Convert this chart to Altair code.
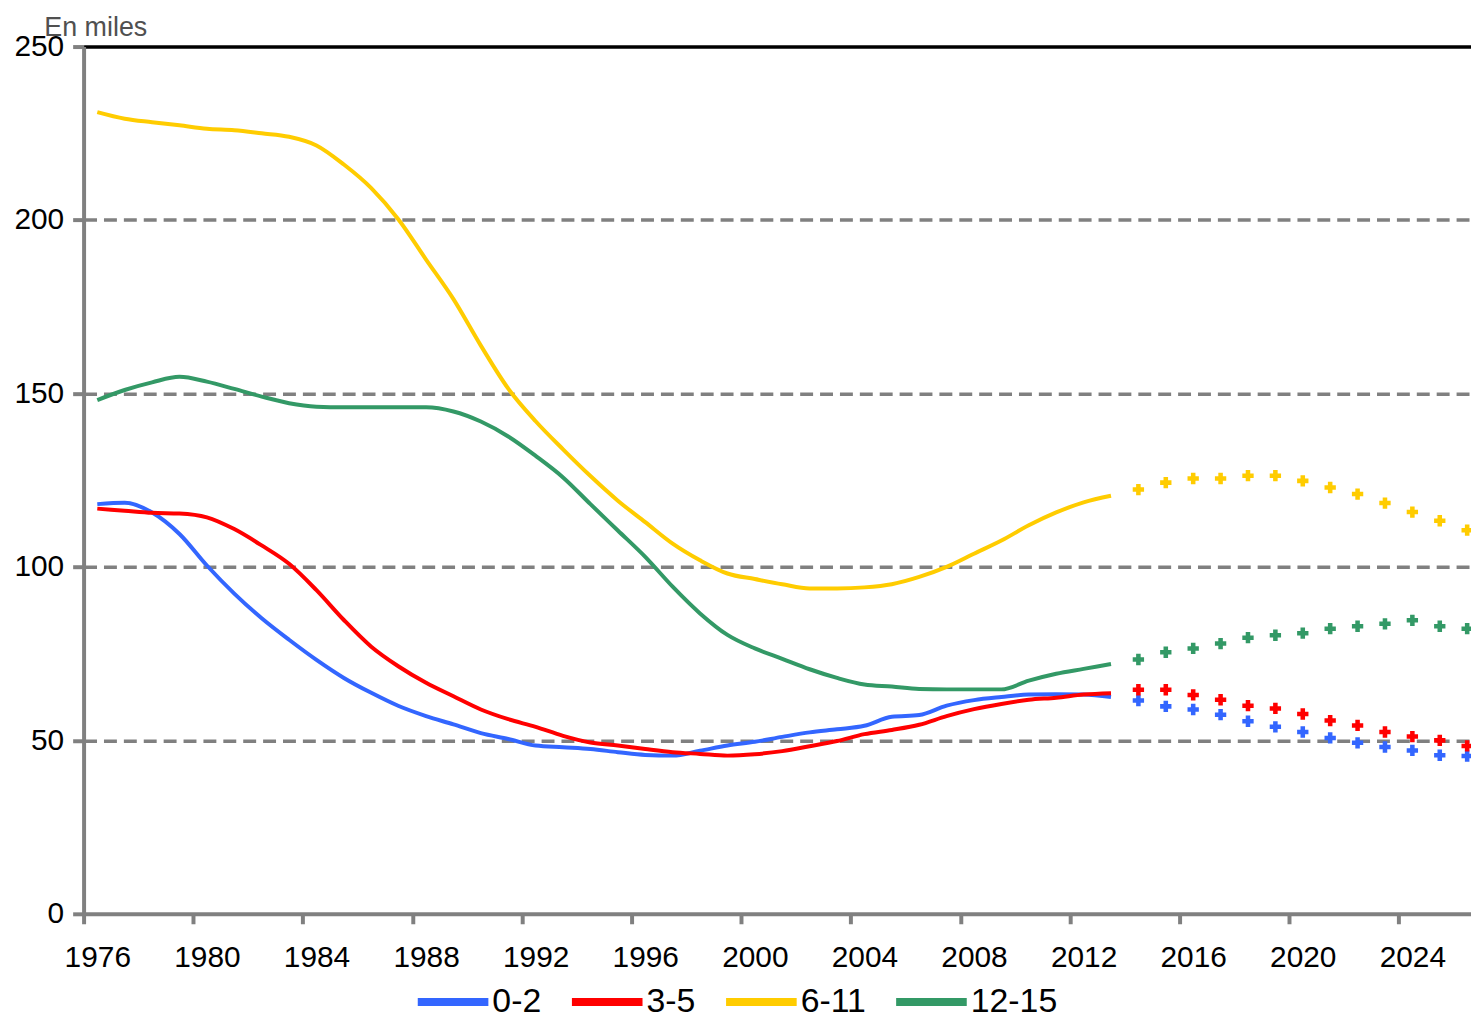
import altair as alt
import pandas as pd

# ---------------- data ----------------
groups = ["0-2", "3-5", "6-11", "12-15"]
colors = ["#3366FF", "#FF0000", "#FFCC00", "#339966"]

years_hist = list(range(1976, 2014))
years_proj = list(range(2014, 2027))

hist_0_2 = [118.1, 118.5, 115.7, 109.5, 100.4, 92.3, 85.2, 79.0, 73.2, 68.0,
            63.7, 59.9, 57.0, 54.6, 52.1, 50.4, 48.5, 48.0, 47.5, 46.6,
            45.8, 45.6, 47.0, 48.5, 49.6, 51.0, 52.3, 53.2, 54.2, 56.8,
            57.3, 60.0, 61.6, 62.5, 63.2, 63.3, 63.2, 62.5]
hist_3_5 = [116.8, 116.2, 115.6, 115.4, 114.3, 110.9, 106.2, 100.9, 93.3, 84.7,
            77.0, 71.3, 66.6, 62.7, 58.9, 56.1, 53.9, 51.3, 49.4, 48.5,
            47.5, 46.6, 46.1, 45.6, 46.0, 46.9, 48.3, 49.8, 51.8, 53.0,
            54.5, 57.0, 59.0, 60.5, 61.7, 62.3, 63.2, 63.6]
hist_6_11 = [231.1, 229.2, 228.2, 227.3, 226.3, 225.9, 225.0, 224.0, 221.5, 216.0,
             209.2, 200.1, 188.6, 177.2, 163.8, 151.4, 142.0, 133.9, 126.2, 119.1,
             112.9, 106.7, 101.9, 98.1, 96.5, 95.0, 93.8, 93.8, 94.1, 95.0,
             97.1, 100.0, 103.8, 107.6, 112.0, 115.7, 118.6, 120.5]
hist_12_15 = [148.1, 151.0, 153.2, 154.8, 153.4, 151.3, 149.1, 147.2, 146.2, 146.0,
              146.0, 146.0, 146.0, 144.8, 141.9, 137.6, 132.0, 125.8, 118.1, 110.5,
              102.9, 94.3, 86.6, 80.4, 76.5, 73.5, 70.5, 68.0, 66.1, 65.5,
              64.8, 64.7, 64.7, 64.7, 67.2, 69.2, 70.6, 72.0]

proj_0_2 = [61.5, 59.8, 58.9, 57.4, 55.5, 53.9, 52.4, 50.7, 49.3, 48.1, 47.1, 45.7, 45.5]
proj_3_5 = [64.6, 64.6, 63.1, 61.7, 60.0, 59.2, 57.6, 55.7, 54.3, 52.4, 51.1, 50.0, 48.4]
proj_6_11 = [122.3, 124.3, 125.5, 125.5, 126.3, 126.3, 124.8, 122.9, 121.0, 118.4, 115.8, 113.3, 110.6]
proj_12_15 = [73.3, 75.4, 76.5, 77.9, 79.6, 80.3, 80.9, 82.2, 82.9, 83.6, 84.6, 82.9, 82.2]

y_ticks = [0, 50, 100, 150, 200, 250]
x_labels = list(range(1976, 2025, 4))

# ---------------- tables ----------------
hist_rows = []
for g, vals in zip(groups, [hist_0_2, hist_3_5, hist_6_11, hist_12_15]):
    for yr, v in zip(years_hist, vals):
        hist_rows.append({"year": yr, "value": v, "group": g})
proj_rows = []
for g, vals in zip(groups, [proj_0_2, proj_3_5, proj_6_11, proj_12_15]):
    for yr, v in zip(years_proj, vals):
        proj_rows.append({"year": yr, "value": v, "group": g})
hist_df = pd.DataFrame(hist_rows)
proj_df = pd.DataFrame(proj_rows)

FONT = "Liberation Sans"
PLOT_W, PLOT_H = 1395, 872
x_lo, x_hi = 1975.5, 2026.14
half_band = PLOT_W / (x_hi - x_lo) / 2

x_scale = alt.Scale(domain=[x_lo, x_hi], nice=False, zero=False)
y_scale = alt.Scale(domain=[0, 250], nice=False, zero=True)
color_scale = alt.Scale(domain=groups, range=colors)

x_axis = alt.Axis(
    values=x_labels, format="d", title=None, grid=False,
    tickOffset=-half_band, labelOffset=half_band,
    tickSize=10, tickWidth=4, tickColor="#808080",
    domainColor="#808080", domainWidth=4,
    labelFont=FONT, labelFontSize=30, labelColor="black",
    labelPadding=19, labelFlush=False, labelOverlap=False, labelBound=False,
)
y_axis = alt.Axis(
    values=y_ticks, title="En miles", titleAngle=0, titleAlign="left",
    titleBaseline="alphabetic", titleX=-40, titleY=-11,
    titleFont=FONT, titleFontSize=27, titleFontWeight="normal", titleColor="#505050",
    labelFont=FONT, labelFontSize=30, labelColor="black", labelPadding=9,
    tickSize=11, tickWidth=4, tickColor="#808080",
    domainColor="#808080", domainWidth=4,
    grid=True,
    gridColor={"condition": {"test": "datum.value === 250", "value": "black"}, "value": "#808080"},
    gridDash={"condition": {"test": "datum.value === 250", "value": []}, "value": [13, 7]},
    gridOpacity={"condition": {"test": "datum.value === 0", "value": 0}, "value": 1},
    gridWidth=3.5,
)

legend = alt.Legend(
    title=None, orient="none", legendX=332, legendY=921, direction="horizontal",
    symbolType="stroke", symbolStrokeWidth=8, symbolSize=5041,
    labelFont=FONT, labelFontSize=34, labelColor="black", labelOffset=0,
    columnPadding=14, padding=0,
)

lines = alt.Chart(hist_df).mark_line(strokeWidth=4, interpolate="monotone").encode(
    x=alt.X("year:Q", scale=x_scale, axis=x_axis),
    y=alt.Y("value:Q", scale=y_scale, axis=y_axis),
    color=alt.Color("group:N", scale=color_scale, legend=legend),
)

points = alt.Chart(proj_df).mark_point(shape="cross", filled=True, size=130, opacity=1).encode(
    x=alt.X("year:Q", scale=x_scale, axis=x_axis),
    y=alt.Y("value:Q", scale=y_scale, axis=y_axis),
    color=alt.Color("group:N", scale=color_scale, legend=None),
)

chart = alt.layer(lines, points).properties(
    width=PLOT_W, height=PLOT_H,
    autosize=alt.AutoSizeParams(type="none"),
    padding={"left": 76, "top": 36, "right": 0, "bottom": 106},
    background="white",
).configure_view(stroke=None)

chart.save("out.html", embed_options={"renderer": "svg", "actions": False})
